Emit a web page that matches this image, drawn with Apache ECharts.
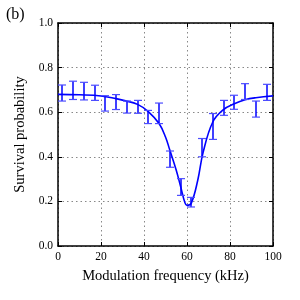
<!DOCTYPE html>
<html><head><meta charset="utf-8">
<script src="https://cdn.jsdelivr.net/npm/echarts@6/dist/echarts.min.js"></script>
<style>html,body{margin:0;padding:0;background:#fff}#c{width:300px;height:300px}</style>
</head><body><div id="c"></div>
<script>
var freqs = [2, 7, 12, 17, 22, 27, 32, 37, 42, 47, 52, 57, 62, 67, 72, 77, 82, 87, 92, 97];
var errLow  = [0.650, 0.657, 0.655, 0.653, 0.605, 0.612, 0.596, 0.595, 0.549, 0.549, 0.353, 0.227, 0.175, 0.400, 0.478, 0.586, 0.613, 0.657, 0.578, 0.653];
var errHigh = [0.722, 0.739, 0.734, 0.721, 0.674, 0.679, 0.650, 0.653, 0.608, 0.641, 0.426, 0.302, 0.218, 0.482, 0.594, 0.653, 0.676, 0.728, 0.650, 0.725];
var fitX = [0, 10, 20, 27, 31, 37, 42, 47, 50, 52, 55, 57, 59, 60, 62, 65, 67.5, 72, 77, 82, 87, 92, 100];
var fitY = [0.680, 0.678, 0.673, 0.661, 0.652, 0.635, 0.603, 0.549, 0.489, 0.430, 0.340, 0.268, 0.195, 0.182, 0.192, 0.295, 0.420, 0.556, 0.612, 0.638, 0.656, 0.665, 0.673];
var xTicks = [0, 20, 40, 60, 80, 100];
var yTicks = [0.0, 0.2, 0.4, 0.6, 0.8, 1.0];

var blue = '#0000ff';
var font = 'Liberation Serif';
var errData = freqs.map(function (f, i) { return [f, errLow[i], errHigh[i]]; });
var fitData = fitX.map(function (x, i) { return [x, fitY[i]]; });

var chart = echarts.init(document.getElementById('c'), null, {renderer: 'canvas'});
var axisLine = {show: true, onZero: false, lineStyle: {color: '#000', width: 1.5}};
var tickIn = {show: true, inside: true, length: 4, lineStyle: {color: '#000', width: 1}};
chart.setOption({
  animation: false,
  backgroundColor: '#fff',
  title: {text: '(b)', left: 1, top: 2, textStyle: {fontFamily: font, fontSize: 16, fontWeight: 'normal', color: '#000'}},
  grid: {left: 58, right: 27, top: 23, bottom: 54, show: false},
  xAxis: [{
    type: 'value', min: 0, max: 100, interval: 20,
    name: 'Modulation frequency (kHz)', nameLocation: 'middle', nameGap: 23,
    nameTextStyle: {fontFamily: font, fontSize: 14.5, color: '#000'},
    axisLine: axisLine, axisTick: tickIn,
    axisLabel: {fontFamily: font, fontSize: 11.5, color: '#000', margin: 5,
      formatter: function (v) { return xTicks.indexOf(v) >= 0 ? String(v) : ''; }},
    splitLine: {show: true, lineStyle: {color: '#888', width: 1, type: [1.5, 3]}}
  }, {
    type: 'value', min: 0, max: 100, interval: 20, position: 'top',
    axisLine: axisLine, axisTick: tickIn, axisLabel: {show: false}, splitLine: {show: false}
  }],
  yAxis: [{
    type: 'value', min: 0, max: 1, interval: 0.2,
    name: 'Survival probability', nameLocation: 'middle', nameGap: 25,
    nameTextStyle: {fontFamily: font, fontSize: 14.5, color: '#000'},
    axisLine: axisLine, axisTick: tickIn,
    axisLabel: {fontFamily: font, fontSize: 11.5, color: '#000', margin: 5,
      formatter: function (v) { return v.toFixed(1); }},
    splitLine: {show: true, lineStyle: {color: '#888', width: 1, type: [1.5, 3]}}
  }, {
    type: 'value', min: 0, max: 1, interval: 0.2, position: 'right',
    axisLine: axisLine, axisTick: tickIn, axisLabel: {show: false}, splitLine: {show: false}
  }],
  series: [{
    type: 'line', data: fitData, smooth: 0.4, showSymbol: false,
    lineStyle: {color: blue, width: 1.6}, z: 3
  }, {
    type: 'custom', data: errData, z: 4,
    renderItem: function (params, api) {
      var x = api.value(0);
      var lo = api.coord([x, api.value(1)]);
      var hi = api.coord([x, api.value(2)]);
      var w = 4;
      var st = {stroke: blue, lineWidth: 1.5};
      var cx = Math.round(lo[0]);
      return {type: 'group', children: [
        {type: 'line', shape: {x1: cx, y1: lo[1], x2: cx, y2: hi[1]}, style: st},
        {type: 'line', shape: {x1: cx - w, y1: lo[1], x2: cx + w, y2: lo[1]}, style: {stroke: '#4d4dff', lineWidth: 1.2}},
        {type: 'line', shape: {x1: cx - w, y1: hi[1], x2: cx + w, y2: hi[1]}, style: {stroke: '#4d4dff', lineWidth: 1.2}}
      ]};
    }
  }]
});
</script></body></html>
